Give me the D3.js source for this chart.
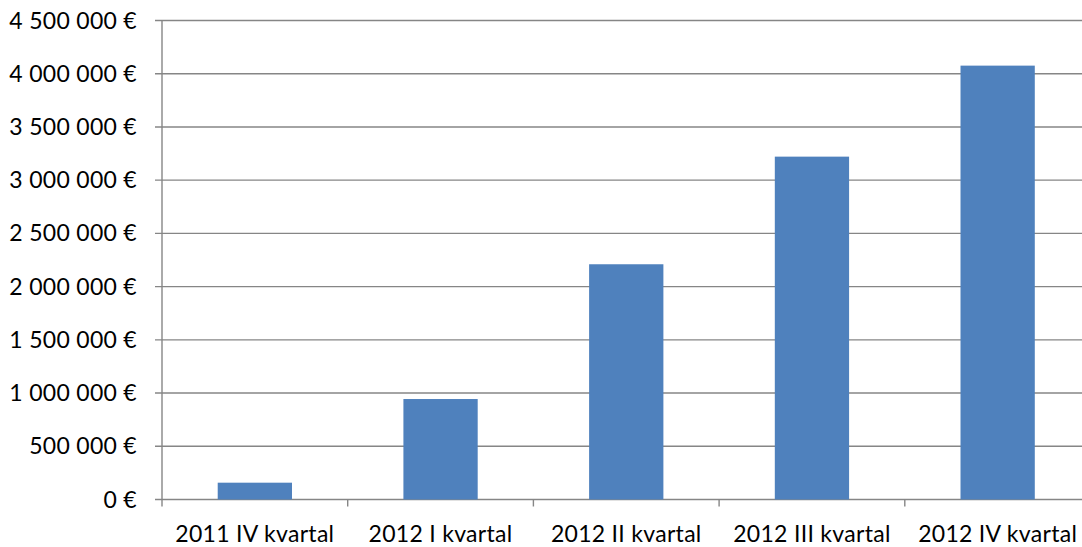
<!DOCTYPE html>
<html>
<head>
<meta charset="utf-8">
<script src="https://cdn.jsdelivr.net/npm/d3@7/dist/d3.min.js"></script>
<style>
  html, body { margin: 0; padding: 0; background: #ffffff; }
  svg { display: block; }
  text { font-family: Lato, "Noto Sans", sans-serif; fill: #000000; letter-spacing: 0.3px; }
</style>
</head>
<body>
<svg id="chart" width="1082" height="547"></svg>
<script>
const categories = ["2011 IV kvartal", "2012 I kvartal", "2012 II kvartal", "2012 III kvartal", "2012 IV kvartal"];
const values = [158000, 944000, 2210000, 3221000, 4076000];
const yTickValues = [0, 500000, 1000000, 1500000, 2000000, 2500000, 3000000, 3500000, 4000000, 4500000];
const yTickLabels = ["0 €", "500 000 €", "1 000 000 €", "1 500 000 €", "2 000 000 €", "2 500 000 €", "3 000 000 €", "3 500 000 €", "4 000 000 €", "4 500 000 €"];

const svg = d3.select("#chart");
const plotLeft = 162, plotTop = 20.5, plotBottom = 499.5, plotRight = 162 + 5 * 185.7;

const x = d3.scaleBand().domain(categories).range([plotLeft, plotRight]).paddingInner(0.6).paddingOuter(0.3);
const xOuter = d3.scaleBand().domain(categories).range([plotLeft, plotRight]);
const y = d3.scaleLinear().domain([0, 4500000]).range([plotBottom, plotTop]);

const gridColor = "#868686";

// gridlines
svg.append("g").selectAll("line").data(yTickValues).join("line")
  .attr("x1", plotLeft - 7).attr("x2", plotRight)
  .attr("y1", d => y(d)).attr("y2", d => y(d))
  .attr("stroke", gridColor).attr("stroke-width", 1.4);

// y axis line
svg.append("line").attr("x1", plotLeft).attr("x2", plotLeft).attr("y1", plotTop).attr("y2", plotBottom + 7)
  .attr("stroke", gridColor).attr("stroke-width", 1.4);

// x category ticks
const boundaries = categories.map(c => xOuter(c) + xOuter.bandwidth());
svg.append("g").selectAll("line").data(boundaries).join("line")
  .attr("x1", d => d).attr("x2", d => d).attr("y1", plotBottom).attr("y2", plotBottom + 7)
  .attr("stroke", gridColor).attr("stroke-width", 1.4);

// bars
svg.append("g").selectAll("rect").data(values).join("rect")
  .attr("x", (d, i) => x(categories[i]))
  .attr("width", x.bandwidth())
  .attr("y", d => y(d))
  .attr("height", d => y(0) - y(d))
  .attr("fill", "#4F81BD");

// y labels
svg.append("g").selectAll("text").data(yTickValues).join("text")
  .attr("x", 137).attr("y", d => y(d)).attr("dy", "0.35em")
  .attr("text-anchor", "end").attr("font-size", 23)
  .text((d, i) => yTickLabels[i]);

// x labels
svg.append("g").selectAll("text").data(categories).join("text")
  .attr("x", d => xOuter(d) + xOuter.bandwidth() / 2).attr("y", 542)
  .attr("text-anchor", "middle").attr("font-size", 23)
  .text(d => d);
</script>
</body>
</html>
